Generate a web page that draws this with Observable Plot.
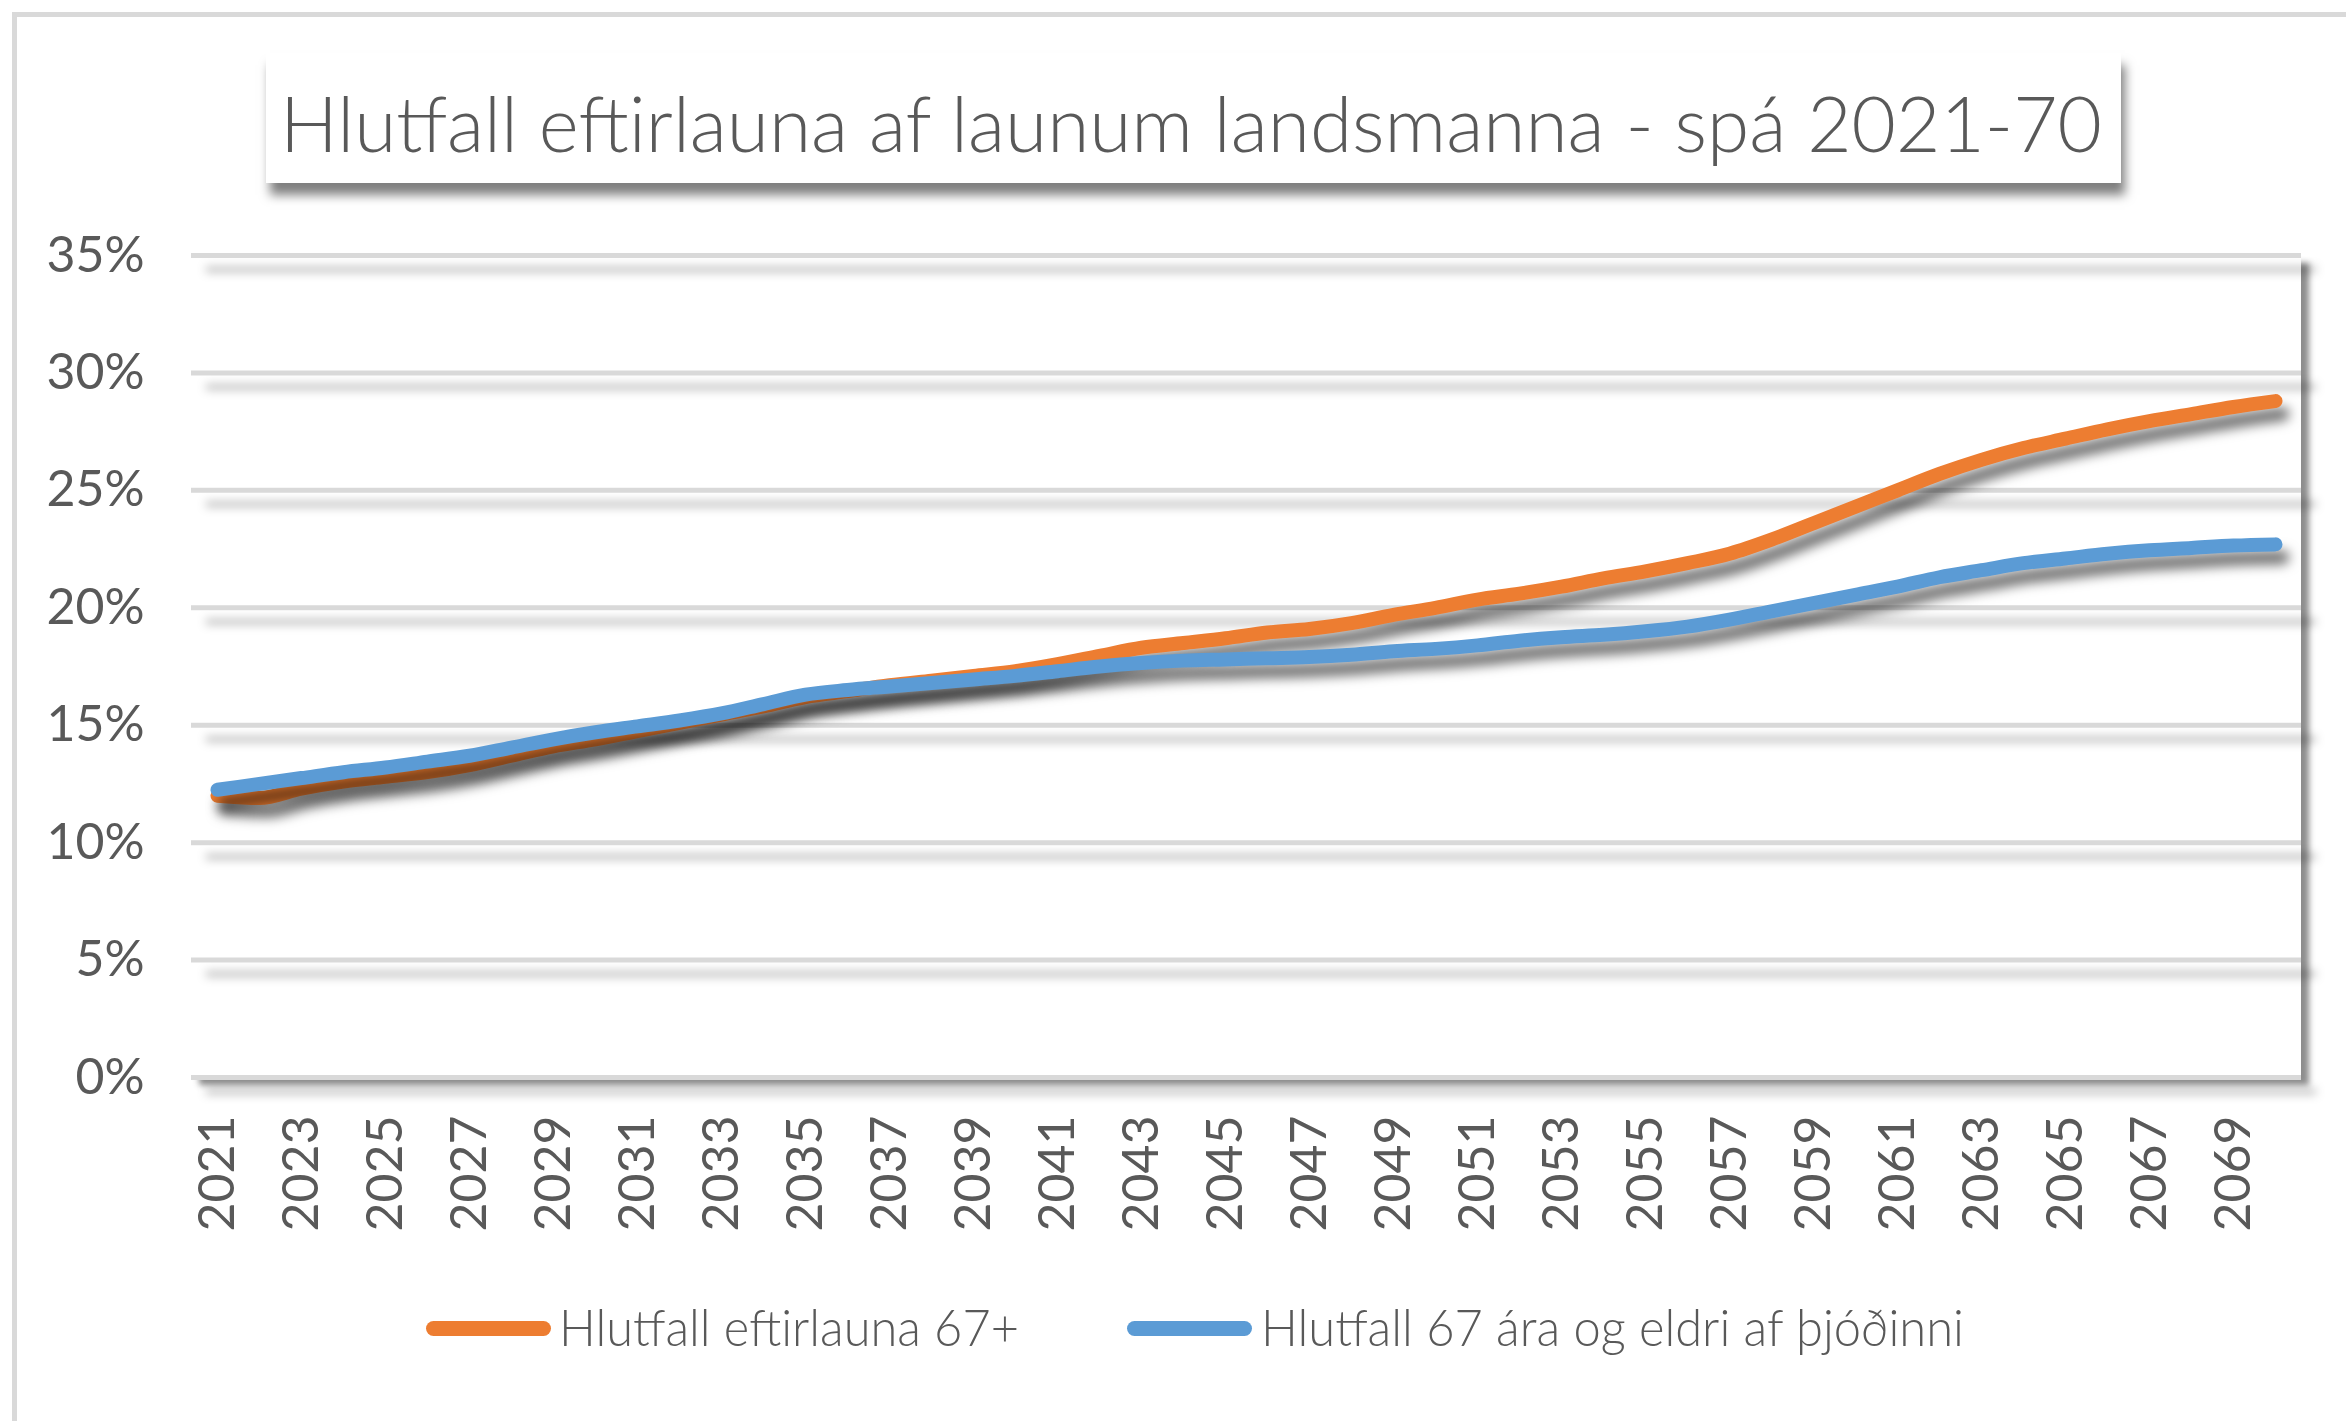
<!DOCTYPE html>
<html>
<head>
<meta charset="utf-8">
<script src="https://cdn.jsdelivr.net/npm/d3@7"></script>
<script src="https://cdn.jsdelivr.net/npm/@observablehq/plot@0.6"></script>
<style>
html, body { margin:0; padding:0; background:#fff; width:2346px; height:1421px; overflow:hidden; font-family: Lato, "Open Sans", sans-serif; }
#frame { position:absolute; left:12px; top:12px; width:2400px; height:1500px; border:5px solid #d9d9d9; box-sizing:border-box; }
#plotbg { position:absolute; left:191px; top:255px; width:2110px; height:822px; background:#fff; box-shadow:8px 8px 6px rgba(0,0,0,0.45); }
#chart { position:absolute; left:0; top:0; }
#titlebox { position:absolute; left:266px; top:53px; width:1855px; height:130px; background:#fff; box-shadow:4px 12px 10px rgba(0,0,0,0.5); }
.txt { position:absolute; white-space:nowrap; line-height:1; color:#595959; transform-origin:0 0; font-family: Lato, "Open Sans", sans-serif; font-weight:300; }
.sw { position:absolute; height:15px; border-radius:7.5px; }
</style>
</head>
<body>
<div id="frame"></div>
<div id="plotbg"></div>
<div id="chart"></div>
<div id="titlebox"></div>
<script>
// ---- data ----
const titleText = "Hlutfall eftirlauna af launum landsmanna - spá 2021-70";
const seriesNames = ["Hlutfall eftirlauna 67+", "Hlutfall 67 ára og eldri af þjóðinni"];
const seriesColors = ["#ED7D31", "#5B9BD5"];
const years = [2021,2022,2023,2024,2025,2026,2027,2028,2029,2030,
               2031,2032,2033,2034,2035,2036,2037,2038,2039,2040,
               2041,2042,2043,2044,2045,2046,2047,2048,2049,2050,
               2051,2052,2053,2054,2055,2056,2057,2058,2059,2060,
               2061,2062,2063,2064,2065,2066,2067,2068,2069,2070];
const pensionShare = [12.0,11.9,12.3,12.6,12.8,13.0,13.3,13.7,14.1,14.4,
                      14.75,15.1,15.45,15.8,16.2,16.45,16.7,16.9,17.1,17.3,
                      17.6,17.95,18.3,18.5,18.7,18.95,19.1,19.35,19.7,20.0,
                      20.35,20.6,20.9,21.25,21.55,21.9,22.3,22.9,23.6,24.3,
                      25.0,25.7,26.3,26.8,27.2,27.6,27.95,28.25,28.55,28.8];
const elderlyShare = [12.25,12.5,12.75,13.0,13.2,13.45,13.7,14.05,14.4,14.7,
                      14.95,15.2,15.5,15.9,16.3,16.5,16.65,16.8,16.95,17.1,
                      17.3,17.5,17.65,17.75,17.8,17.85,17.9,18.0,18.15,18.25,
                      18.4,18.6,18.75,18.85,19.0,19.2,19.5,19.85,20.2,20.55,
                      20.9,21.3,21.6,21.9,22.1,22.3,22.45,22.55,22.65,22.7];
const yTicks = [0,5,10,15,20,25,30,35];
const xTickYears = [2021,2023,2025,2027,2029,2031,2033,2035,2037,2039,2041,2043,2045,
                    2047,2049,2051,2053,2055,2057,2059,2061,2063,2065,2067,2069];

const orangeData = years.map((y,i) => ({year:y, value:pensionShare[i]}));
const blueData = years.map((y,i) => ({year:y, value:elderlyShare[i]}));

const plot = Plot.plot({
  width: 2346,
  height: 1421,
  marginLeft: 191,
  marginRight: 45,
  marginTop: 255,
  marginBottom: 344,
  style: { fontFamily: "Lato, 'Open Sans', sans-serif", fontSize: "50px", color: "#595959", background: "transparent" },
  x: { type: "point", domain: years, padding: 0.5 },
  y: { domain: [0, 35] },
  marks: [
    Plot.ruleY(yTicks, { stroke: "#d9d9d9", strokeWidth: 5 }),
    Plot.axisY({ ticks: yTicks, tickFormat: d => d + "%", tickSize: 0, tickPadding: 47, fontSize: 50, label: null }),
    Plot.axisX({ ticks: xTickYears, tickFormat: d => String(d), tickRotate: -90, tickSize: 0, tickPadding: 38, fontSize: 50, label: null }),
    Plot.line(orangeData, { x: "year", y: "value", stroke: seriesColors[0], strokeWidth: 14, curve: "monotone-x", strokeLinecap: "round", strokeLinejoin: "round" }),
    Plot.line(blueData, { x: "year", y: "value", stroke: seriesColors[1], strokeWidth: 14, curve: "monotone-x", strokeLinecap: "round", strokeLinejoin: "round" })
  ]
});
document.getElementById("chart").appendChild(plot);

const svg = d3.select(plot);
svg.selectAll('g[aria-label="rule"]').style("filter", "drop-shadow(15px 14px 5px rgba(0,0,0,0.3))");
svg.selectAll('g[aria-label="line"]').style("filter", "drop-shadow(7px 13px 6px rgba(0,0,0,0.55))");

// ---- title & legend (HTML text, width-fitted) ----
function placeText(text, left, baseline, size, targetWidth) {
  const el = document.createElement("div");
  el.className = "txt";
  el.textContent = text;
  el.style.fontSize = size + "px";
  el.style.left = left + "px";
  el.style.top = (baseline - 0.887 * size) + "px";
  document.body.appendChild(el);
  const w = el.getBoundingClientRect().width;
  el.style.transform = "scaleX(" + (targetWidth / w) + ")";
  return el;
}
placeText(titleText, 280, 152, 77, 1822);

function swatch(color, left) {
  const s = document.createElement("div");
  s.className = "sw";
  s.style.background = color;
  s.style.left = left + "px";
  s.style.top = "1321px";
  s.style.width = "125px";
  document.body.appendChild(s);
}
swatch(seriesColors[0], 426);
placeText(seriesNames[0], 559, 1346, 51, 460);
swatch(seriesColors[1], 1127);
placeText(seriesNames[1], 1261, 1346, 51, 703);
</script>
</body>
</html>
